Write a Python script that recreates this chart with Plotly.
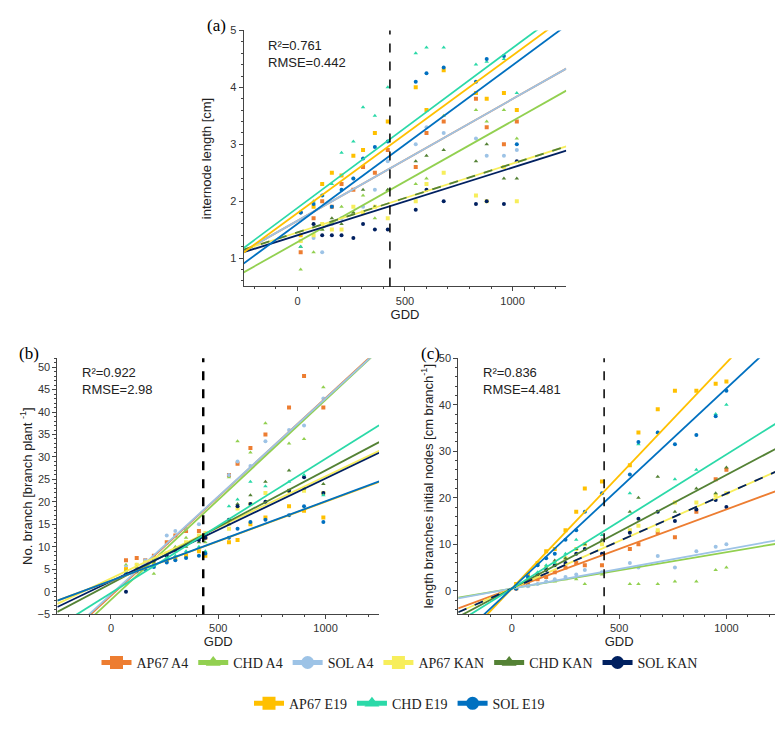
import numpy as np
import plotly.graph_objects as go

names = ["AP67 A4", "CHD A4", "SOL A4", "AP67 KAN", "CHD KAN", "SOL KAN",
         "AP67 E19", "CHD E19", "SOL E19"]
colors = ["#ED7D31", "#92D050", "#9DC3E6", "#F7EE5B", "#548235", "#002060",
          "#FFC000", "#2BD9A8", "#0070C0"]
symbols = ["square", "triangle-up", "circle"] * 3

# panel (a) internode length
gdd_a = [15, 75, 115, 160, 205, 260, 305, 360, 420, 550, 600, 680, 830, 880, 960, 1020]
y_a = [
    [1.1, 1.7, 2.0, 1.9, 2.3, 2.2, 2.6, 2.5, 2.9, 2.6, 3.2, 3.4, 3.8, 3.3, 3.0, 3.4],
    [0.8, 1.1, 1.5, 1.6, 1.9, 1.8, 2.1, 1.7, 2.2, 2.3, 2.4, 3.5, 3.6, 3.4, 3.6, 3.1],
    [1.3, 1.35, 1.1, 1.6, 1.7, 2.4, 1.9, 2.2, 2.7, 3.0, 3.3, 3.2, 3.1, 2.8, 2.8, 2.9],
    [1.3, 1.4, 1.6, 1.5, 1.5, 1.9, 1.8, 1.9, 1.7, 2.0, 2.3, 2.5, 2.1, 2.0, 2.6, 2.0],
    [1.2, 1.6, 1.5, 1.7, 1.6, 1.8, 2.2, 1.9, 2.2, 2.7, 2.8, 2.9, 2.7, 3.0, 2.4, 2.4],
    [1.8, 1.6, 1.4, 1.4, 1.4, 1.35, 1.6, 1.5, 1.5, 1.85, 2.2, 2.0, 1.95, 2.0, 1.95, 2.7],
    [1.4, 1.9, 2.3, 2.5, 2.45, 2.8, 2.9, 3.2, 3.4, 4.0, 3.6, 4.3, 3.9, 3.8, 3.9, 3.6],
    [1.2, 2.0, 2.1, 2.3, 2.85, 3.05, 3.65, 3.5, 4.0, 4.6, 4.7, 4.7, 4.4, 4.45, 4.5, 3.9],
    [1.8, 1.95, 2.1, 1.9, 2.2, 2.4, 2.75, 2.95, 3.05, 4.1, 4.25, 4.35, 4.1, 4.5, 4.55, 3.0],
]
icpt_a = [1.655, 1.28, 1.655, 1.45, 1.45, 1.40, 1.79, 1.88, 1.60]
slope_a = [0.00214, 0.00213, 0.00214, 0.00121, 0.00121, 0.00119, 0.00277, 0.00281, 0.00279]

# panel (b) number of branches
gdd_b = [70, 120, 160, 200, 260, 300, 350, 410, 440, 550, 590, 650, 720, 830, 900, 990]
y_b = [
    [7, 7.5, 7, 8, 11, 12.5, 13.5, 13.5, 12, 26, 28.5, 32, 35, 41, 48, 41],
    [6, 5.5, 5, 4, 7, 10, 12, 12.5, 11, 25.5, 33.5, 31, 37.5, 33, 34, 45.5],
    [5.5, 6, 7, 7.5, 12.5, 13.5, 14, 15, 13, 26, 29, 28, 33.5, 36, 37, 43],
    [5, 6, 6.5, 7, 8.5, 9.5, 11, 12.5, 13, 14, 18.5, 19.5, 22, 22.5, 22.5, 22],
    [4.5, 5.5, 6, 6.5, 8, 9, 10, 11, 12, 15, 19.5, 21.5, 24.5, 27, 23, 24],
    [0, 5, 6, 7, 8, 9.5, 10.5, 11.5, 12, 16, 19, 19.5, 20, 22.5, 25.5, 22],
    [5, 5, 5.5, 6, 7, 7.5, 8, 9, 8, 11, 11.5, 15, 16.5, 19, 18, 16.5],
    [4.5, 5, 5, 6, 7.5, 8, 9, 10, 9, 19, 20.5, 24.5, 23.5, 24.5, 26, 21.5],
    [4, 4.5, 5, 5.5, 6.5, 7, 7.5, 8, 8.5, 12, 14, 15.5, 16, 17, 19, 15.5],
]
icpt_b = [-0.9, -1.8, -0.6, 2.97, 1.8, 2.3, 2.42, -0.3, 2.42]
slope_b = [0.044, 0.0445, 0.0436, 0.0227, 0.0252, 0.0229, 0.0176, 0.0299, 0.0177]

# panel (c) length branches initial nodes
gdd_c = [20, 75, 120, 160, 200, 250, 300, 340, 420, 550, 590, 680, 760, 860, 950, 1000]
y_c = [
    [0.5, 1.5, 2.5, 3, 4, 5, 6, 5.5, 5.5, 9, 10, 12.5, 11.5, 17, 24, 26],
    [0.5, 1, 1.5, 2, 2, 2.5, 2.5, 1.5, 3.5, 1.5, 1.5, 1.5, 2, 2, 4.5, 5],
    [0.5, 1, 1.5, 2, 2.5, 3, 3.5, 4.5, 4, 6, 5, 7.5, 5, 8.5, 9.5, 10],
    [1, 2.5, 3.5, 5, 6, 7, 9, 10, 10, 13, 14, 13, 19, 19, 20.5, 21],
    [0.5, 2.5, 3.5, 5, 6.5, 7, 9, 10, 11, 17, 20, 24.5, 17, 22, 21, 26.5],
    [0.5, 2, 3.5, 4.5, 5.5, 6, 8, 9, 8, 12.5, 15.5, 17, 15, 17.5, 19.5, 18],
    [1.5, 3.5, 6, 8.5, 9, 13, 17, 22, 23.5, 27, 34, 39, 43, 43, 44.5, 45],
    [0.5, 2, 4, 5.5, 6, 8, 11, 17, 12, 21, 31.5, 34, 24, 26, 38, 40],
    [0.5, 3, 5.5, 7, 8, 11, 13, 17, 21, 25, 32, 34, 31.5, 33.5, 37.5, 43],
]
icpt_c = [0.5] * 9
slope_c = [0.017, 0.0078, 0.0084, 0.0204, 0.0244, 0.0204, 0.0485, 0.0288, 0.043]

dash_a = ["solid"] * 4 + ["dash"] + ["solid"] * 4
dash_b = ["solid"] * 9
dash_c = ["solid"] * 5 + ["dash"] + ["solid"] * 3

fig = go.Figure()
xl = np.array([-250, 1250])
panels = [("x", "y", gdd_a, y_a, icpt_a, slope_a, dash_a),
          ("x2", "y2", gdd_b, y_b, icpt_b, slope_b, dash_b),
          ("x3", "y3", gdd_c, y_c, icpt_c, slope_c, dash_c)]
for xa, ya, gx, gy, ic, sl, ds in panels:
    for i in range(9):
        fig.add_trace(go.Scatter(x=gx, y=gy[i], mode="markers", xaxis=xa, yaxis=ya,
                                 marker=dict(color=colors[i], symbol=symbols[i], size=4),
                                 showlegend=False, hoverinfo="skip"))
    for i in range(9):
        fig.add_trace(go.Scatter(x=xl, y=ic[i] + sl[i] * xl, mode="lines", xaxis=xa, yaxis=ya,
                                 line=dict(color=colors[i], width=1.8, dash=ds[i]),
                                 showlegend=False, hoverinfo="skip"))

# legend entries
for i in range(9):
    fig.add_trace(go.Scatter(x=[None], y=[None], mode="lines+markers", name=names[i],
                             marker=dict(color=colors[i], symbol=symbols[i], size=13),
                             line=dict(color=colors[i], width=5),
                             legend="legend" if i < 6 else "legend2"))

# vertical dashed line at the threshold
for xa, ya, w in [("x", "y", 1.5), ("x2", "y2", 2.5), ("x3", "y3", 1.5)]:
    fig.add_shape(type="line", xref=xa, yref=ya + " domain", x0=430, x1=430, y0=0, y1=1,
                  line=dict(color="black", width=w, dash="dash"))

stats = [("x", "y", "R²=0.761<br>RMSE=0.442"), ("x2", "y2", "R²=0.922<br>RMSE=2.98"),
         ("x3", "y3", "R²=0.836<br>RMSE=4.481")]
for xa, ya, t in stats:
    fig.add_annotation(xref=xa + " domain", yref=ya + " domain", x=0.07, y=0.98, text=t,
                       showarrow=False, xanchor="left", yanchor="top", align="left",
                       font=dict(size=13, color="#222"))
for xa, ya, t in [("x", "y", "(a)"), ("x2", "y2", "(b)"), ("x3", "y3", "(c)")]:
    fig.add_annotation(xref=xa + " domain", yref=ya + " domain", x=-0.05, y=1.02, text=t,
                       showarrow=False, xanchor="right", yanchor="middle",
                       font=dict(family="Liberation Serif", size=17, color="black"))

ax = dict(showline=True, linecolor="#444", linewidth=1, ticks="outside", ticklen=4,
          showgrid=False, zeroline=False, tickfont=dict(size=11, color="#333"),
          minor=dict(ticks="outside", ticklen=2), mirror=False)
fig.update_layout(
    width=783, height=729, margin=dict(l=0, r=0, t=0, b=0),
    plot_bgcolor="white", paper_bgcolor="white",
    font=dict(family="Liberation Sans", color="#222"),
    xaxis=dict(ax, domain=[0.301, 0.713], range=[-250, 1250], tickvals=[0, 500, 1000],
               anchor="y", title=dict(text="GDD", font=dict(size=13), standoff=2)),
    yaxis=dict(ax, domain=[0.620, 0.977], range=[0.5, 5], dtick=1, anchor="x",
               title=dict(text="internode length [cm]", font=dict(size=13))),
    xaxis2=dict(ax, domain=[0.063, 0.474], range=[-250, 1250], tickvals=[0, 500, 1000],
                anchor="y2", title=dict(text="GDD", font=dict(size=13), standoff=2)),
    yaxis2=dict(ax, domain=[0.163, 0.520], range=[-5, 52], dtick=5, anchor="x2",
                title=dict(text="No. branch [branch plant <sup>-1</sup>]", font=dict(size=13), standoff=2)),
    xaxis3=dict(ax, domain=[0.575, 0.986], range=[-250, 1250], tickvals=[0, 500, 1000],
                anchor="y3", title=dict(text="GDD", font=dict(size=13), standoff=2)),
    yaxis3=dict(ax, domain=[0.163, 0.520], range=[-5, 50], dtick=10, anchor="x3",
                title=dict(text="length branches initial nodes [cm branch<sup>-1</sup>]",
                           font=dict(size=13), standoff=2)),
    legend=dict(orientation="h", x=0.5, xanchor="center", y=0.095, yanchor="middle",
                font=dict(family="Liberation Serif", size=14, color="#222"),
                itemwidth=30, tracegroupgap=0),
    legend2=dict(orientation="h", x=0.5, xanchor="center", y=0.038, yanchor="middle",
                 font=dict(family="Liberation Serif", size=14, color="#222"),
                 itemwidth=30),
)
fig.write_html("out.html")
